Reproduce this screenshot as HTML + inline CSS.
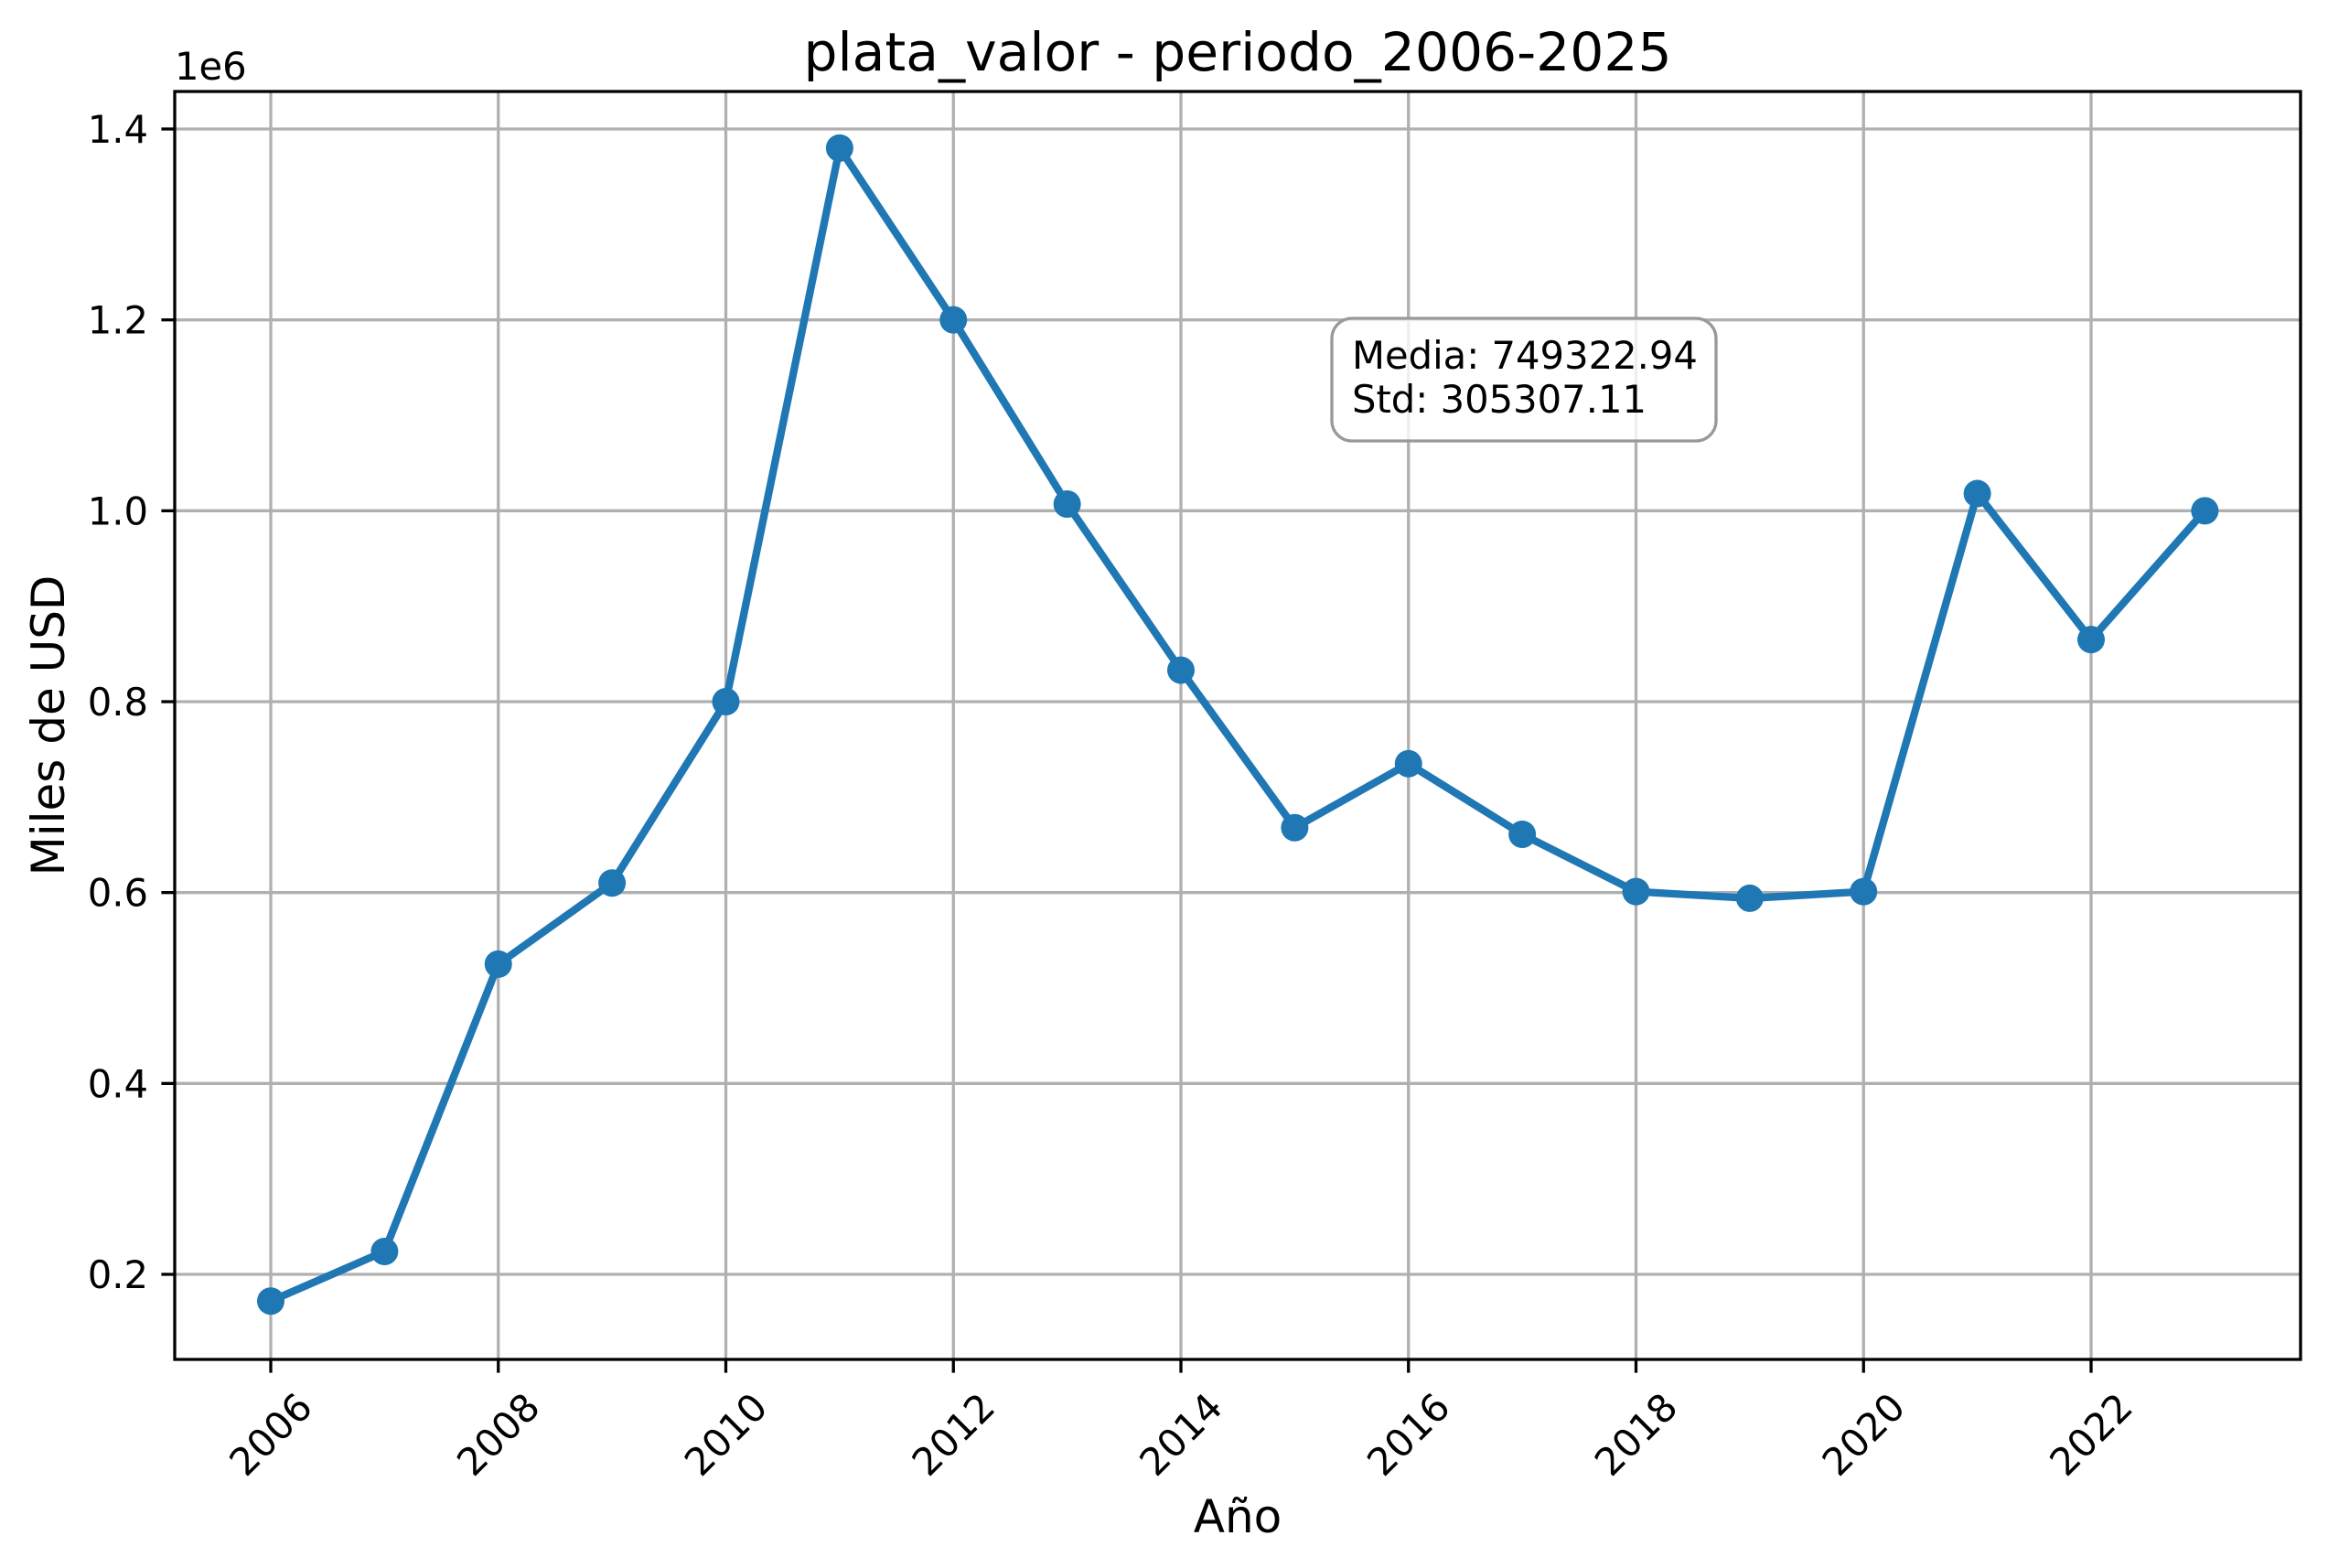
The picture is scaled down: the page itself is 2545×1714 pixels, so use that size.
<!DOCTYPE html>
<html><head><meta charset="utf-8"><style>
html,body{margin:0;padding:0;background:#fff;}
svg{display:block;font-family:"DejaVu Sans","Liberation Sans",sans-serif;}
</style></head><body>
<svg id="chart" width="2545" height="1714" viewBox="0 0 2545 1714" xmlns="http://www.w3.org/2000/svg">
<rect width="2545" height="1714" fill="#fff"/>
<g id="grid"></g>
<g id="series"></g>
<g id="axes"></g>
<g id="labels"></g>
</svg>
<script>
const years = [2006,2007,2008,2009,2010,2011,2012,2013,2014,2015,2016,2017,2018,2019,2020,2021,2022,2023];
const values = [0.172,0.224,0.525,0.610,0.800,1.380,1.200,1.007,0.833,0.668,0.735,0.661,0.601,0.594,0.601,1.018,0.865,1.000];
const xTicks = [2006,2008,2010,2012,2014,2016,2018,2020,2022];
const yTicks = [0.2,0.4,0.6,0.8,1.0,1.2,1.4];
const yTickLabels = ["0.2","0.4","0.6","0.8","1.0","1.2","1.4"];

const L=191,R=2515,T=100,B=1486;
function sx(v){return 296+(v-2006)*124.375;}
function sy(v){return 1393-(v-0.2)*(1252/1.2);}
const NS="http://www.w3.org/2000/svg";
function mk(tag,attrs,parent,text){const e=document.createElementNS(NS,tag);for(const k in attrs)e.setAttribute(k,attrs[k]);if(text!==undefined)e.textContent=text;parent.appendChild(e);return e;}
const grid=document.getElementById('grid'),series=document.getElementById('series'),axes=document.getElementById('axes'),labels=document.getElementById('labels');

xTicks.forEach(t=>{
  const g=mk('line',{x1:sx(t),x2:sx(t),y1:T,y2:B,stroke:'#b0b0b0','stroke-width':3.3},grid);
  
  
  const tk=mk('line',{x1:sx(t),x2:sx(t),y1:B,y2:B+14.6,stroke:'#000','stroke-width':3.3},axes);
  
  
  const cx=sx(t),cy=1568;
  const tl=mk('text',{x:cx,y:cy,'font-size':41.7,'text-anchor':'middle','dominant-baseline':'central',transform:`rotate(-45 ${cx} ${cy})`},labels,String(t));
  
  
});
yTicks.forEach((t,i)=>{
  const g=mk('line',{x1:L,x2:R,y1:sy(t),y2:sy(t),stroke:'#b0b0b0','stroke-width':3.3},grid);
  
  
  const tk=mk('line',{x1:L-14.6,x2:L,y1:sy(t),y2:sy(t),stroke:'#000','stroke-width':3.3},axes);
  
  
  const tl=mk('text',{x:L-29,y:sy(t)+15,'font-size':41.7,'text-anchor':'end'},labels,yTickLabels[i]);
  
  
});

const pts=years.map((y,i)=>sx(y)+','+sy(values[i])).join(' ');
const line=mk('polyline',{points:pts,fill:'none',stroke:'#1f77b4','stroke-width':8.3,'stroke-linejoin':'round','stroke-linecap':'square'},series);


years.forEach((y,i)=>{
  const c=mk('circle',{cx:sx(y),cy:sy(values[i]),r:15,fill:'#1f77b4'},series);
  
  
});

const frame=mk('rect',{x:L,y:T,width:R-L,height:B-T,fill:'none',stroke:'#000','stroke-width':3.3},axes);



const box=mk('rect',{x:1456,y:348,width:420,height:134,rx:22,fill:'#fff','fill-opacity':0.8,stroke:'#999','stroke-width':3.3},labels);


const t1=mk('text',{x:1478,y:403,'font-size':41.7},labels,'Media: 749322.94');


const t2=mk('text',{x:1478,y:451,'font-size':41.7},labels,'Std: 305307.11');



const title=mk('text',{x:(L+R)/2,y:77,'font-size':58.3,'text-anchor':'middle'},labels,'plata_valor - periodo_2006-2025');


const xl=mk('text',{x:(L+R)/2,y:1675,'font-size':50,'text-anchor':'middle'},labels,'Año');


const yl=mk('text',{x:70,y:(T+B)/2,'font-size':50,'text-anchor':'middle',transform:`rotate(-90 70 ${(T+B)/2})`},labels,'Miles de USD');


const off=mk('text',{x:191,y:87,'font-size':41.7},labels,'1e6');


</script>
</body></html>
